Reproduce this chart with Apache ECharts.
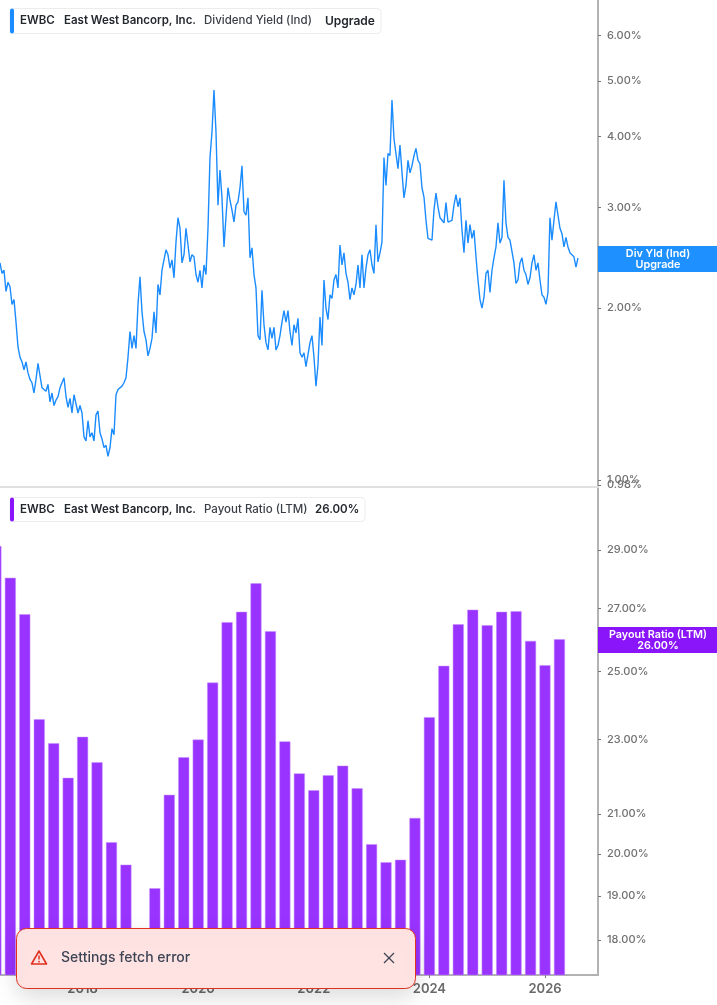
<!DOCTYPE html>
<html lang="en">
<head>
    <meta charset="UTF-8">
    <title>EWBC Dividend Yield and Payout Ratio</title>
    <script type="text/javascript" src="https://cdn.jsdelivr.net/npm/echarts@6/dist/echarts.min.js"></script>
    <style>
        html, body { margin: 0; padding: 0; background: #fff; }
        #main { width: 717px; height: 1005px; }
    </style>
</head>
<body>
<div id="main"></div>
<script type="text/javascript">
    // Dividend yield in %, one reading every yieldStepYears
    const yieldFirstYear = 2016.571;
    const yieldStepYears = 0.0346;
    const yieldValues = [
        2.40, 2.30, 2.33, 2.14, 2.22, 2.18, 2.03, 2.07, 1.89, 1.71, 1.64, 1.61, 1.56, 1.61, 1.54, 1.50,
        1.48, 1.42, 1.50, 1.60, 1.60, 1.45, 1.46, 1.43, 1.47, 1.37, 1.42, 1.35, 1.38, 1.40, 1.45, 1.46,
        1.51, 1.40, 1.34, 1.39, 1.31, 1.41, 1.40, 1.31, 1.35, 1.31, 1.19, 1.17, 1.27, 1.19, 1.21, 1.17,
        1.30, 1.32, 1.21, 1.18, 1.14, 1.15, 1.10, 1.14, 1.23, 1.20, 1.41, 1.44, 1.45, 1.46, 1.48, 1.51,
        1.64, 1.82, 1.70, 1.79, 1.70, 2.03, 2.27, 1.97, 1.82, 1.76, 1.65, 1.70, 1.77, 1.97, 1.81, 2.20,
        2.11, 2.33, 2.43, 2.53, 2.48, 2.35, 2.43, 2.26, 2.61, 2.88, 2.76, 2.40, 2.48, 2.76, 2.58, 2.41,
        2.48, 2.46, 2.29, 2.22, 2.33, 2.17, 2.38, 2.29, 2.76, 3.67, 4.07, 4.82, 4.07, 3.03, 3.49, 3.12,
        2.56, 2.89, 3.25, 3.09, 2.97, 2.83, 3.03, 3.07, 3.25, 3.55, 2.95, 2.91, 3.12, 2.45, 2.55, 2.29,
        2.17, 1.79, 1.76, 2.15, 1.87, 1.74, 1.69, 1.85, 1.77, 1.85, 1.69, 1.72, 1.79, 1.89, 1.98, 1.89,
        1.98, 1.82, 1.72, 1.87, 1.81, 1.92, 1.67, 1.64, 1.67, 1.58, 1.58, 1.74, 1.79, 1.64, 1.46, 1.59,
        1.93, 1.72, 2.24, 2.00, 1.91, 2.11, 2.08, 2.24, 2.29, 2.17, 2.58, 2.38, 2.50, 2.30, 2.22, 2.07,
        2.17, 2.11, 2.20, 2.38, 2.17, 2.48, 2.17, 2.35, 2.48, 2.53, 2.38, 2.30, 2.80, 2.41, 2.50, 2.61,
        3.67, 3.28, 3.73, 3.70, 4.63, 3.96, 3.99, 3.51, 3.86, 3.46, 3.12, 3.28, 3.63, 3.45, 3.55, 3.70,
        3.81, 3.63, 3.58, 3.25, 3.13, 2.85, 2.65, 2.66, 2.63, 2.97, 3.18, 3.01, 2.88, 2.85, 2.82, 3.06,
        2.83, 2.85, 2.85, 3.03, 3.16, 3.01, 3.12, 2.74, 2.50, 2.85, 2.60, 2.80, 2.65, 2.74, 2.46, 2.24,
        2.07, 2.00, 2.09, 2.30, 2.33, 2.13, 2.33, 2.45, 2.56, 2.82, 2.60, 2.66, 3.35, 2.82, 2.66, 2.63,
        2.63, 2.40, 2.21, 2.24, 2.40, 2.45, 2.33, 2.29, 2.20, 2.26, 2.40, 2.48, 2.33, 2.40, 2.24, 2.11,
        2.09, 2.03, 2.13, 2.88, 2.63, 2.85, 3.07, 3.06, 2.76, 2.70, 2.56, 2.66, 2.56, 2.50, 2.48, 2.46,
        2.36, 2.45
    ];

    // Payout ratio in %, one bar per quarter end
    const payoutFirstYear = 2016.5;
    const payoutValues = [
        29.14, 28.03, 26.81, 23.58, 22.90, 21.95, 23.08, 22.37, 20.29, 19.74,
        17.60, 19.18, 21.50, 22.51, 23.00, 24.66, 26.55, 26.89, 27.84, 26.26,
        22.95, 22.07, 21.62, 22.02, 22.28, 21.67, 20.24, 19.80, 19.86, 20.90,
        23.64, 25.17, 26.48, 26.96, 26.45, 26.89, 26.91, 25.95, 25.19, 26.00
    ];

    const yearTicks = [2018, 2020, 2022, 2024, 2026];
    const yieldTicks = [1, 2, 3, 4, 5, 6];
    const yieldLowTick = [0.98];
    const payoutTicks = [18, 19, 20, 21, 23, 25, 27, 29];

    const yieldPoints = yieldValues.map(function (v, i) {
        return [yieldFirstYear + i * yieldStepYears, v];
    });
    const payoutPoints = payoutValues.map(function (v, i) {
        return [payoutFirstYear + i * 0.25, v];
    });

    const labelFont = 'Inter, "Noto Sans", sans-serif';

    function percentAxis(gridIndex, min, max, ticks) {
        return {
            type: 'log',
            logBase: 10,
            gridIndex: gridIndex,
            position: 'right',
            min: min,
            max: max,
            splitLine: {show: false},
            axisLine: {show: true, lineStyle: {color: '#b2b2b2', width: 2}},
            axisTick: {show: true, length: 3, customValues: ticks, lineStyle: {color: '#777'}},
            axisLabel: {
                customValues: ticks,
                hideOverlap: false,
                margin: 9,
                padding: [4, 0, 0, 0],
                fontFamily: labelFont,
                fontSize: 11,
                fontWeight: 500,
                color: '#707070',
                formatter: function (v) {
                    return Number(v).toFixed(2) + '%';
                }
            }
        };
    }

    function chipTexts(y, metric, metricValue, metricValueX, valueSize) {
        const parts = [
            ['EWBC', 20, 600, '#23272e', 11.5],
            ['East West Bancorp, Inc.', 64, 600, '#23272e', 11.5],
            [metric, 204, 500, '#3a3f47', 11.5],
            [metricValue, metricValueX, 600, '#23272e', valueSize]
        ];
        return parts.map(function (p) {
            return {
                type: 'text',
                z: 20,
                style: {
                    text: p[0], x: p[1], y: y,
                    font: p[2] + ' ' + p[4] + 'px ' + labelFont,
                    fill: p[3],
                    verticalAlign: 'middle'
                }
            };
        });
    }

    function chipBox(top, height, width, color) {
        return [{
            type: 'rect',
            z: 19,
            shape: {x: 10, y: top, width: width, height: height, r: 4},
            style: {fill: '#fff', stroke: '#ececec', lineWidth: 1}
        }, {
            type: 'rect',
            z: 20,
            shape: {x: 10, y: top, width: 4, height: height, r: 2},
            style: {fill: color}
        }];
    }

    function sideTag(top, color, lines) {
        return [{
            type: 'rect',
            z: 20,
            shape: {x: 598, y: top, width: 119, height: 26},
            style: {fill: color}
        }, {
            type: 'text',
            z: 21,
            style: {
                text: lines, x: 658, y: top + 13,
                font: '600 10.8px ' + labelFont,
                lineHeight: 11,
                fill: '#fff',
                align: 'center',
                verticalAlign: 'middle'
            }
        }];
    }

    const toast = [{
        type: 'rect',
        z: 30,
        shape: {x: 16.5, y: 928.5, width: 399, height: 60, r: 10},
        style: {
            fill: '#ffe3e3', stroke: '#e0301e', lineWidth: 1,
            shadowBlur: 22, shadowColor: 'rgba(0,0,0,0.14)', shadowOffsetY: 8
        }
    }, {
        type: 'polygon',
        z: 31,
        shape: {points: [[39, 951], [46.5, 964], [31.5, 964]]},
        style: {fill: 'none', stroke: '#e0301e', lineWidth: 1.6, lineJoin: 'round'}
    }, {
        type: 'line',
        z: 31,
        shape: {x1: 39, y1: 955.5, x2: 39, y2: 959.5},
        style: {stroke: '#e0301e', lineWidth: 1.5}
    }, {
        type: 'circle',
        z: 31,
        shape: {cx: 39, cy: 961.7, r: 0.9},
        style: {fill: '#e0301e'}
    }, {
        type: 'text',
        z: 31,
        style: {
            text: 'Settings fetch error', x: 61, y: 958,
            font: '500 14px ' + labelFont,
            fill: '#3d4454',
            verticalAlign: 'middle'
        }
    }, {
        type: 'line',
        z: 31,
        shape: {x1: 384, y1: 953, x2: 394, y2: 963},
        style: {stroke: '#3d4454', lineWidth: 1.3}
    }, {
        type: 'line',
        z: 31,
        shape: {x1: 394, y1: 953, x2: 384, y2: 963},
        style: {stroke: '#3d4454', lineWidth: 1.3}
    }];

    // the 0.98% tick sits on top of 1.00% in the reference, a second axis keeps both labels
    const yieldLowAxis = percentAxis(0, 0.972, 6.93, yieldLowTick);
    yieldLowAxis.axisLine = {show: false};

    const myChart = echarts.init(document.getElementById('main'));
    myChart.setOption({
        animation: false,
        backgroundColor: '#fff',
        grid: [
            {left: 0, right: 119, top: 0, height: 487},
            {left: 0, right: 119, top: 487, height: 488}
        ],
        xAxis: [{
            type: 'value',
            gridIndex: 0,
            min: 2016.571,
            max: 2026.917,
            splitLine: {show: false},
            axisLine: {show: true, onZero: false, lineStyle: {color: '#e0e0e0', width: 2}},
            axisTick: {show: false},
            axisLabel: {show: false}
        }, {
            type: 'value',
            gridIndex: 1,
            min: 2016.571,
            max: 2026.917,
            splitLine: {show: false},
            axisLine: {show: true, onZero: false, lineStyle: {color: '#b2b2b2', width: 2}},
            axisTick: {show: true, length: 3, customValues: yearTicks, lineStyle: {color: '#777'}},
            axisLabel: {
                customValues: yearTicks,
                margin: 8,
                fontFamily: labelFont,
                fontSize: 13,
                fontWeight: 600,
                color: '#6a6a6a',
                formatter: function (v) {
                    return String(v);
                }
            }
        }],
        yAxis: [
            percentAxis(0, 0.972, 6.93, yieldTicks),
            percentAxis(1, 17.25, 31.32, payoutTicks),
            yieldLowAxis
        ],
        series: [{
            name: 'Dividend Yield (Ind)',
            type: 'line',
            xAxisIndex: 0,
            yAxisIndex: 0,
            data: yieldPoints,
            showSymbol: false,
            lineStyle: {color: '#1a8cff', width: 1.4}
        }, {
            name: 'Payout Ratio (LTM)',
            type: 'bar',
            xAxisIndex: 1,
            yAxisIndex: 1,
            data: payoutPoints,
            barWidth: 11,
            itemStyle: {color: '#9933ff', borderColor: '#c68fff', borderWidth: 0.5}
        }],
        graphic: [].concat(
            chipBox(8.5, 25, 371, '#1a8cff'),
            chipTexts(21, 'Dividend Yield (Ind)', 'Upgrade', 325, 12),
            chipBox(497.5, 24, 355, '#8a14fa'),
            chipTexts(510, 'Payout Ratio (LTM)', '26.00%', 315, 11.5),
            sideTag(246, '#1e90ff', 'Div Yld (Ind)\nUpgrade'),
            sideTag(627, '#8a14fa', 'Payout Ratio (LTM)\n26.00%'),
            toast
        )
    });
</script>
</body>
</html>
